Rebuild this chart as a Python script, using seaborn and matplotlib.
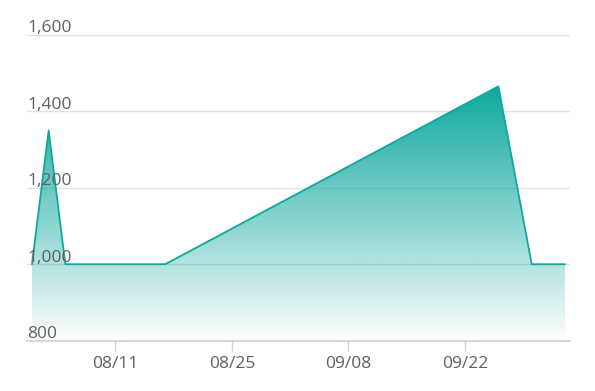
import matplotlib
matplotlib.use("Agg")
import matplotlib.pyplot as plt
import matplotlib.dates as mdates
import matplotlib.transforms as mtransforms
import numpy as np
import pandas as pd
import seaborn as sns

dates = ["2024-08-01", "2024-08-03", "2024-08-05", "2024-08-17",
         "2024-09-26", "2024-09-30", "2024-10-04"]
values = [1000, 1350, 1000, 1000, 1465, 1000, 1000]
tick_dates = ["2024-08-11", "2024-08-25", "2024-09-08", "2024-09-22"]
tick_labels = ["08/11", "08/25", "09/08", "09/22"]
y_ticks = [800, 1000, 1200, 1400, 1600]

df = pd.DataFrame({"date": pd.to_datetime(dates), "value": values})

sns.set_theme(style="white")
plt.rcParams["font.family"] = ["Open Sans", "DejaVu Sans"]

fig = plt.figure(figsize=(5.95, 3.91), dpi=100)
ax = fig.add_axes([0.0454, 0.1286, 0.9126, 0.7826])

teal = "#0ea89e"
xnum = mdates.date2num(df["date"])
ymin, ymax = 800, 1600

# gradient fill
poly = ax.fill_between(df["date"], df["value"], ymin, color="none", lw=0)
vmax = max(values)
grad = np.linspace(0, 1, 256).reshape(-1, 1)
rgba = np.zeros((256, 1, 4))
c = matplotlib.colors.to_rgb(teal)
rgba[..., 0] = c[0]
rgba[..., 1] = c[1]
rgba[..., 2] = c[2]
rgba[..., 3] = grad ** 0.95
img = ax.imshow(rgba, aspect="auto", origin="lower",
                extent=[xnum.min(), xnum.max(), ymin, vmax], zorder=1,
                interpolation="bilinear")
path = poly.get_paths()[0]
img.set_clip_path(path, transform=ax.transData)

sns.lineplot(data=df, x="date", y="value", ax=ax, color=teal, lw=1.3, zorder=3)

ax.set_xlim(mdates.date2num(pd.Timestamp("2024-08-01")) - 0.6,
            mdates.date2num(pd.Timestamp("2024-10-04")) + 0.6)
ax.set_ylim(ymin, ymax)

for v in y_ticks[1:]:
    ax.axhline(v, color="#e3e3e3", lw=1, zorder=0.5)

ax.set_yticks([])
trans = mtransforms.blended_transform_factory(ax.transAxes, ax.transData)
for v in y_ticks:
    ax.text(0.0, v + 6, f"{v:,}", transform=trans, ha="left", va="baseline",
            fontsize=12.5, color="#606060", zorder=5)

ax.set_xticks(pd.to_datetime(tick_dates))
ax.set_xticklabels(tick_labels, fontsize=12.5, color="#606060")
ax.tick_params(axis="x", direction="out", length=7, width=1, color="#ccd0e0", pad=4,
               bottom=True)

for s in ["top", "right", "left"]:
    ax.spines[s].set_visible(False)
ax.spines["bottom"].set_color("#ccd0e0")
ax.spines["bottom"].set_linewidth(1.2)
ax.set_xlabel("")
ax.set_ylabel("")

fig.savefig("out.png", dpi=100)
